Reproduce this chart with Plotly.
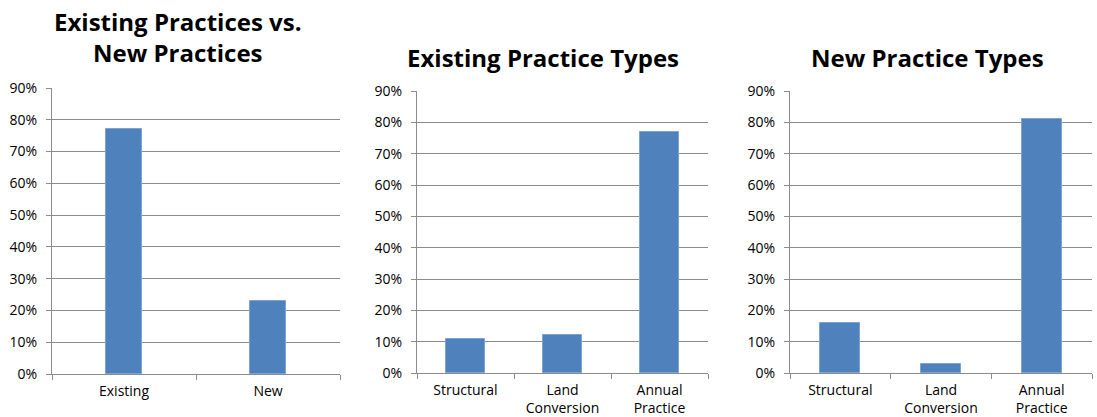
import plotly.graph_objects as go

W, H = 1097, 417

cats1 = ["Existing", "New"]
vals1 = [0.77, 0.23]
cats2 = ["Structural", "Land<br>Conversion", "Annual<br>Practice"]
vals2 = [0.11, 0.12, 0.77]
cats3 = ["Structural", "Land<br>Conversion", "Annual<br>Practice"]
vals3 = [0.16, 0.03, 0.81]
titles = ["Existing Practices vs.<br>New Practices", "Existing Practice Types", "New Practice Types"]

BAR = "#4F81BD"
GRID = "#8C8C8C"
FONT = "Open Sans, sans-serif"

fig = go.Figure()

panels = [
    (cats1, vals1, 0.25, (52, 340), (88, 374)),
    (cats2, vals2, 0.40, (417, 708), (91, 373)),
    (cats3, vals3, 0.40, (790, 1092), (91, 373)),
]

layout = {}
for i, (c, v, w, (x0, x1), (yt, yb)) in enumerate(panels):
    n = "" if i == 0 else str(i + 1)
    fig.add_trace(go.Bar(x=c, y=v, width=w, marker=dict(color=BAR, line=dict(color="#7FA3D0", width=1)),
                         xaxis="x" + n, yaxis="y" + n, showlegend=False))
    layout["xaxis" + n] = dict(domain=[x0 / W, x1 / W], anchor="y" + n, type="category",
                               showline=True, linecolor=GRID, linewidth=1,
                               ticks="outside", tickson="boundaries", ticklen=5, tickcolor=GRID,
                               ticklabelstandoff=4,
                               tickfont=dict(family=FONT, size=14, color="#000"), showgrid=False,
                               fixedrange=True, automargin=False)
    layout["yaxis" + n] = dict(domain=[1 - yb / H, 1 - yt / H], anchor="x" + n, range=[0, 0.9],
                               dtick=0.1, tickformat=".0%", showline=True, linecolor=GRID, linewidth=1,
                               ticks="outside", ticklen=5, tickcolor=GRID, showgrid=True,
                               ticklabelstandoff=6,
                               gridcolor=GRID, gridwidth=1, zeroline=False, automargin=False,
                               tickfont=dict(family=FONT, size=14, color="#000"))

annotations = [
    dict(text=titles[0], x=178 / W, y=1 - 37 / H, xref="paper", yref="paper", showarrow=False,
         font=dict(family=FONT, size=24, color="#000"), xanchor="center", yanchor="middle"),
    dict(text=titles[1], x=543 / W, y=1 - 57 / H, xref="paper", yref="paper", showarrow=False,
         font=dict(family=FONT, size=24, color="#000"), xanchor="center", yanchor="middle"),
    dict(text=titles[2], x=927 / W, y=1 - 57 / H, xref="paper", yref="paper", showarrow=False,
         font=dict(family=FONT, size=24, color="#000"), xanchor="center", yanchor="middle"),
]
for a in annotations:
    a["text"] = "<b>" + a["text"].replace("<br>", "</b><br><b>") + "</b>"

fig.update_layout(width=W, height=H, margin=dict(l=0, r=0, t=0, b=0), plot_bgcolor="white",
                  paper_bgcolor="white", annotations=annotations, bargap=0, **layout)

fig.write_html("out.html")
